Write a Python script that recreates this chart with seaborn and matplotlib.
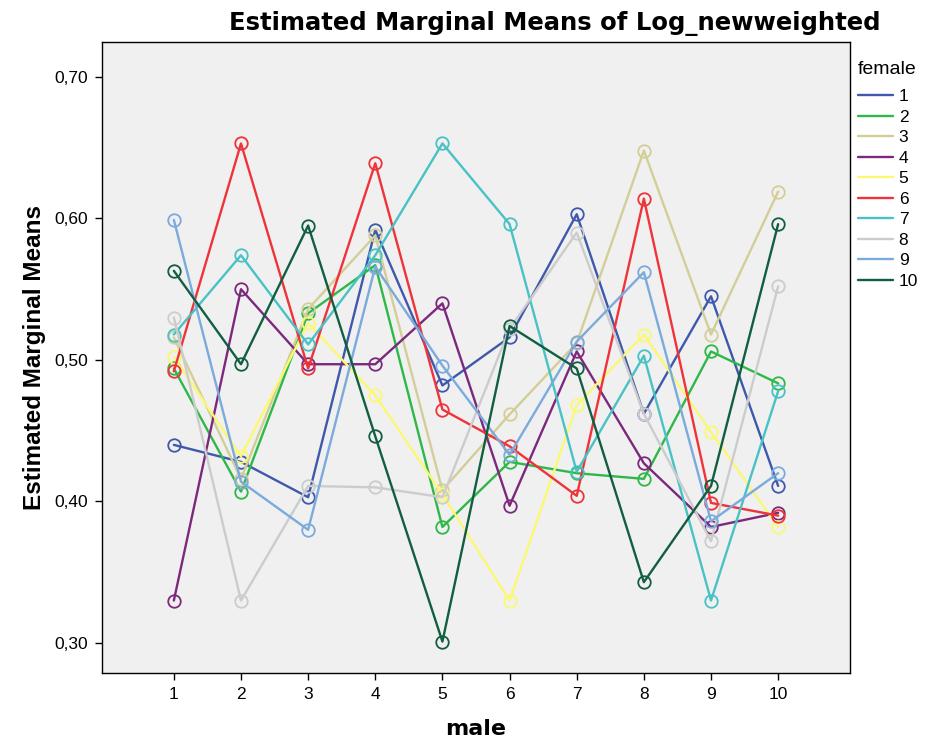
import numpy as np
import pandas as pd
import matplotlib
matplotlib.use("Agg")
import matplotlib.pyplot as plt
from matplotlib.lines import Line2D
import seaborn as sns

# ---- data ----
male_levels = [1, 2, 3, 4, 5, 6, 7, 8, 9, 10]
female_labels = ["1", "2", "3", "4", "5", "6", "7", "8", "9", "10"]

f1 = [0.440, 0.428, 0.403, 0.592, 0.482, 0.516, 0.603, 0.462, 0.545, 0.411]
f2 = [0.494, 0.407, 0.533, 0.567, 0.382, 0.428, 0.420, 0.416, 0.506, 0.4835]
f3 = [0.516, 0.416, 0.536, 0.588, 0.408, 0.4615, 0.512, 0.648, 0.518, 0.619]
f4 = [0.330, 0.550, 0.497, 0.497, 0.540, 0.397, 0.506, 0.427, 0.382, 0.392]
f5 = [0.502, 0.432, 0.526, 0.475, 0.405, 0.330, 0.468, 0.518, 0.449, 0.382]
f6 = [0.492, 0.653, 0.494, 0.639, 0.465, 0.439, 0.404, 0.614, 0.399, 0.390]
f7 = [0.518, 0.574, 0.511, 0.574, 0.653, 0.596, 0.421, 0.503, 0.330, 0.478]
f8 = [0.530, 0.330, 0.411, 0.410, 0.403, 0.522, 0.590, 0.462, 0.372, 0.552]
f9 = [0.599, 0.414, 0.380, 0.566, 0.496, 0.433, 0.513, 0.562, 0.386, 0.420]
f10 = [0.563, 0.497, 0.595, 0.446, 0.301, 0.524, 0.494, 0.343, 0.411, 0.596]

series = [f1, f2, f3, f4, f5, f6, f7, f8, f9, f10]

colors = ["#3E58AC", "#2EB848", "#D3CE97", "#7C287D", "#FBF873",
          "#EF3338", "#48C2C5", "#CCCCCC", "#7BAADC", "#115E41"]

y_ticks = [0.30, 0.40, 0.50, 0.60, 0.70]
y_tick_labels = ["0,30", "0,40", "0,50", "0,60", "0,70"]

# ---- long-form table ----
rows = []
for lab, vals in zip(female_labels, series):
    for m, v in zip(male_levels, vals):
        rows.append({"male": m, "female": lab, "value": v})
df = pd.DataFrame(rows)

sns.set_theme(style="ticks")
plt.rcParams["font.family"] = ["Liberation Sans", "DejaVu Sans"]
for k in ["text.color", "axes.labelcolor", "xtick.color", "ytick.color"]:
    plt.rcParams[k] = "black"

fig = plt.figure(figsize=(9.28, 7.41), dpi=100)
ax = fig.add_axes([102 / 928, 1 - 673 / 741, (850 - 102) / 928, (673 - 42) / 741])
ax.set_facecolor("#F0F0F0")

palette = dict(zip(female_labels, colors))
sns.lineplot(data=df, x="male", y="value", hue="female", hue_order=female_labels,
             palette=palette, marker="o", markersize=9, linewidth=1.7,
             legend=False, ax=ax, sort=False)

for line in ax.lines:
    c = line.get_color()
    line.set_markeredgecolor(c)
    line.set_markerfacecolor("none")
    line.set_markeredgewidth(1.3)

ax.set_xlim(-0.07, 11.07)
ax.set_ylim(0.2788, 0.7247)
ax.set_xticks(male_levels)
ax.set_xticklabels([str(m) for m in male_levels], fontsize=12.5)
ax.set_yticks(y_ticks)
ax.set_yticklabels(y_tick_labels, fontsize=12.5)
ax.tick_params(axis="both", direction="out", length=5, width=1, color="black", pad=5)

for s in ax.spines.values():
    s.set_visible(True)
    s.set_color("black")
    s.set_linewidth(1.0)

ax.set_xlabel("male", fontsize=16, fontweight="bold", labelpad=12,
              family=["DejaVu Sans"])
ax.set_ylabel("Estimated Marginal Means", fontsize=17.5, fontweight="bold",
              labelpad=6)

fig.text(555 / 928, 1 - 23 / 741, "Estimated Marginal Means of Log_newweighted",
         ha="center", va="center", fontsize=17.5, fontweight="bold",
         family=["DejaVu Sans"])

handles = [Line2D([], [], color=c, lw=1.7) for c in colors]
leg = fig.legend(handles, female_labels, title="female", loc="upper left",
                 bbox_to_anchor=(851 / 928, 1 - 54 / 741), frameon=False,
                 fontsize=12.5, title_fontsize=14, handlelength=2.0,
                 labelspacing=0.31, handletextpad=0.35, borderaxespad=0)
leg._legend_box.align = "left"
leg._legend_box.sep = 8

fig.savefig("out.png", dpi=100, facecolor="white")
